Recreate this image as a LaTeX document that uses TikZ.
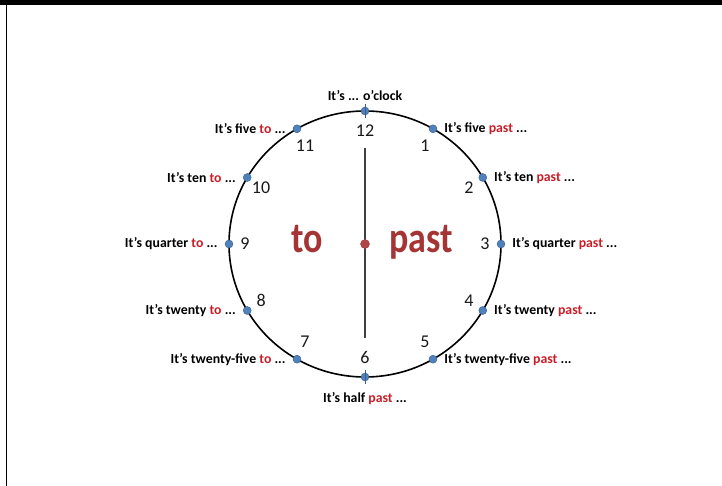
\documentclass[tikz,border=0pt]{standalone}
\usepackage{fontspec}
\setmainfont{Carlito}
\usetikzlibrary{positioning}
\definecolor{dotblue}{RGB}{79,129,189}
\definecolor{dotedge}{RGB}{56,93,138}
\definecolor{wordred}{RGB}{200,30,40}
\definecolor{bigred}{RGB}{165,52,52}
\definecolor{handgray}{RGB}{64,64,64}

\begin{document}
\begin{tikzpicture}[x=1pt,y=1pt,
    hourdot/.style={circle,fill=dotblue,draw=dotedge,line width=0.4pt,inner sep=0pt,minimum size=8pt},
    hournum/.style={font=\fontsize{18}{20}\selectfont,inner sep=1pt,text=black!90},
    saying/.style={font=\fontsize{13.8}{15}\selectfont\bfseries,inner sep=1pt,text=black},
    bigword/.style={font=\fontsize{36}{40}\selectfont\bfseries,text=bigred,anchor=base,inner sep=0pt},
    ticker/.style={draw=dotedge,line width=1pt}
]
\useasboundingbox (-365,-242) rectangle (357,244);
% frame
\fill (-365,239) rectangle (357,244);
\draw[line width=1pt] (-358,244) -- (-358,-242);

% clock face
\draw[line width=1.6pt] (0,0) ellipse [x radius=136, y radius=133];
\foreach \h in {1,...,12} {
    \node[hourdot] (d\h) at ({90-30*\h}:136pt and 133pt) {};
    \node[hournum] (n\h) at ({90-30*\h}:120pt and 113pt) {\h};
}
\draw[ticker] ([yshift=-7pt]d12.center) -- ([yshift=7pt]d12.center);
\draw[ticker] ([yshift=-7pt]d6.center) -- ([yshift=7pt]d6.center);

% hand and centre
\coordinate (htop) at (0,96);
\coordinate (hbot) at (0,-94);
\draw[handgray,line width=1.5pt] (htop) -- (hbot);
\node[circle,fill=bigred!90,draw=bigred,inner sep=0pt,minimum size=9pt] (ctr) at (0,0) {};
\node[bigword] (wto) at (-58,-9) {\scalebox{1}[1.2]{to}};
\node[bigword] (wpast) at (56,-9) {\scalebox{1}[1.2]{past}};

% sayings
\node[saying,above=5pt of d12] (s12) {It's ... o'clock};
\node[saying,below=10pt of d6] (s6) {It's half \textcolor{wordred}{past} ...};
\foreach \h/\w in {1/five,2/ten,3/quarter,4/twenty,5/twenty-five}
    \node[saying,right=6pt of d\h] (s\h) {It's \w\ \textcolor{wordred}{past} ...};
\foreach \h/\w in {7/twenty-five,8/twenty,9/quarter,10/ten,11/five}
    \node[saying,left=6pt of d\h] (s\h) {It's \w\ \textcolor{wordred}{to} ...};
\end{tikzpicture}
\end{document}
